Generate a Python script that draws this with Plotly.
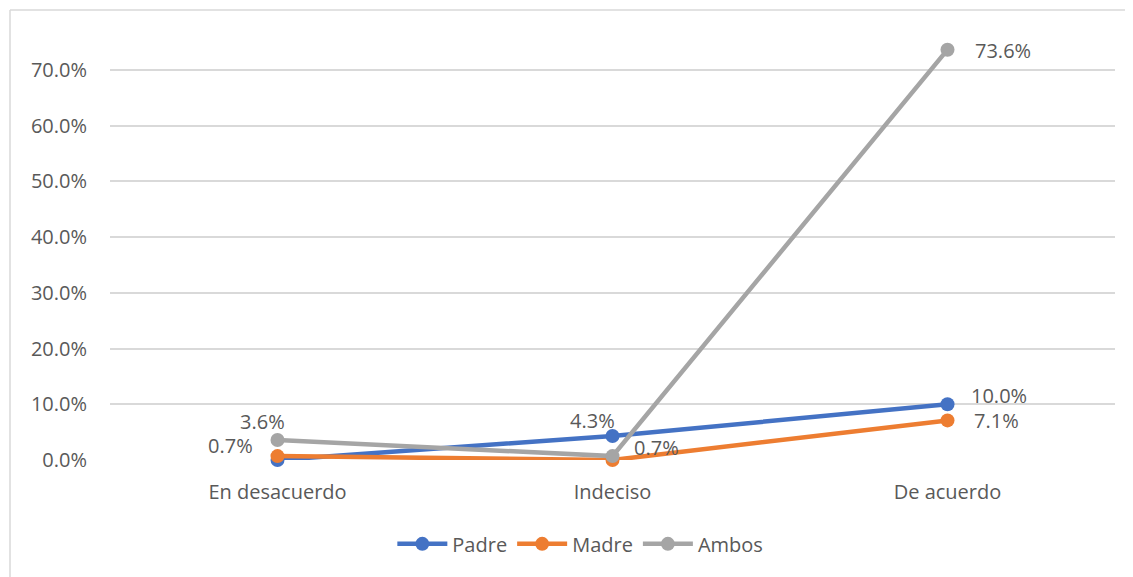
import plotly.graph_objects as go

categories = ["En desacuerdo", "Indeciso", "De acuerdo"]
padre = [0.000, 0.043, 0.100]
madre = [0.007, 0.000, 0.071]
ambos = [0.036, 0.007, 0.736]
y_ticks = [0.0, 0.1, 0.2, 0.3, 0.4, 0.5, 0.6, 0.7]

series = [
    ("Padre", padre, "#4472C4"),
    ("Madre", madre, "#ED7D31"),
    ("Ambos", ambos, "#A5A5A5"),
]

# which data labels are shown and where: (series, index, xanchor, xshift, yshift)
label_spots = [
    ("Padre", 1, "center", -20, 16),
    ("Padre", 2, "left", 21, 9),
    ("Madre", 0, "right", -23, 11),
    ("Madre", 2, "left", 24, 0),
    ("Ambos", 0, "center", -15, 18),
    ("Ambos", 1, "left", 19, 9),
    ("Ambos", 2, "left", 25, -1),
]

text_color = "#595959"
font_family = "Open Sans, Noto Sans, sans-serif"
fs = 20

fig = go.Figure()
for name, values, color in series:
    fig.add_trace(go.Scatter(
        x=categories, y=values, name=name, mode="lines+markers",
        line=dict(color=color, width=4.5),
        marker=dict(color=color, size=14),
        cliponaxis=False,
    ))

lookup = {name: values for name, values, _ in series}
for name, idx, anchor, dx, dy in label_spots:
    v = lookup[name][idx]
    fig.add_annotation(
        x=categories[idx], y=v, text=f"{v * 100:.1f}%", showarrow=False,
        xanchor=anchor, yanchor="middle", xshift=dx, yshift=dy,
        font=dict(size=fs, color=text_color, family=font_family),
    )

# outer chart border (top and left edges visible)
fig.add_shape(type="line", xref="paper", yref="paper", x0=-0.0995, x1=1.03, y0=1.009, y1=1.009,
              line=dict(color="#D9D9D9", width=1.5))
fig.add_shape(type="line", xref="paper", yref="paper", x0=-0.0995, x1=-0.0995, y0=1.009, y1=-0.3,
              line=dict(color="#D9D9D9", width=1.5))

# page body has an 8px margin, so the figure is sized/offset to compensate
fig.update_layout(
    width=1125, height=569,
    margin=dict(l=102, r=18, t=6, b=117),
    plot_bgcolor="white", paper_bgcolor="white",
    font=dict(family=font_family, size=fs, color=text_color),
    showlegend=True,
    legend=dict(orientation="h", x=0.468, xanchor="center", y=-0.188, yanchor="middle",
                font=dict(size=fs, color=text_color), itemwidth=50, tracegroupgap=0),
)
fig.update_xaxes(range=[-0.5, 2.5], showgrid=False, showline=False, zeroline=False,
                 ticks="", ticklabelstandoff=18, tickfont=dict(size=fs, color=text_color))
fig.update_yaxes(range=[0, 0.8], tickvals=y_ticks, tickformat=".1%", showgrid=True,
                 gridcolor="#D9D9D9", gridwidth=1.5, zeroline=False, showline=False,
                 ticks="", ticklabelstandoff=22, tickfont=dict(size=fs, color=text_color))

fig.write_html("out.html")
